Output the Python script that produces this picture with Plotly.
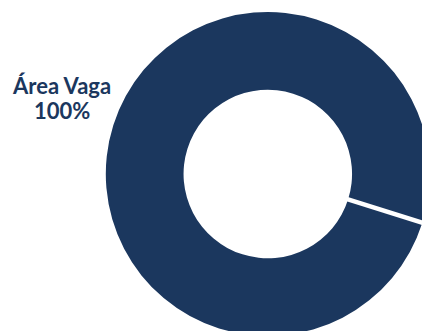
import math
import plotly.graph_objects as go

# Occupancy breakdown
labels = ["Área Vaga"]
values = [100]
colors = ["#1B375E"]

# Layout geometry (pixels)
W, H = 440, 340
cx, cy = 267.8, 174.0      # donut centre
R = 162.0                  # outer radius
hole = 0.52
rotation = 107.5           # start angle of the first slice, clockwise from 12 o'clock

dom_x = [(cx - R) / W, (cx + R) / W]
dom_y = [1 - (cy + R) / H, 1 - (cy - R) / H]

fig = go.Figure(
    go.Pie(
        labels=labels,
        values=values,
        hole=hole,
        rotation=rotation,
        sort=False,
        marker=dict(colors=colors, line=dict(color="white", width=0)),
        textinfo="none",
        hoverinfo="label+percent",
        domain=dict(x=dom_x, y=dom_y),
        showlegend=False,
    )
)

# Slice border at the start angle (a single full slice has no radial edge)
a = math.radians(rotation)
r0, r1 = R * hole - 1, R + 12
x0, y0 = cx + r0 * math.sin(a), cy - r0 * math.cos(a)
x1, y1 = cx + r1 * math.sin(a), cy - r1 * math.cos(a)
fig.add_shape(
    type="line",
    xref="paper", yref="paper",
    x0=x0 / W, y0=1 - y0 / H, x1=x1 / W, y1=1 - y1 / H,
    line=dict(color="white", width=4.5),
)

# Outside label: category name over its share
total = sum(values)
label_lines = [labels[0], "%d%%" % round(100 * values[0] / total)]
label_y = [85, 111]
for txt, ly in zip(label_lines, label_y):
    fig.add_annotation(
        xref="paper", yref="paper",
        x=62 / W, y=1 - ly / H,
        xanchor="center", yanchor="middle",
        text="<b>%s</b>" % txt,
        showarrow=False,
        font=dict(family="Lato", size=22, color=colors[0]),
        align="center",
    )

fig.update_layout(
    width=W, height=H,
    autosize=False,
    margin=dict(l=0, r=0, t=0, b=0),
    paper_bgcolor="white",
    plot_bgcolor="white",
)

fig.write_html(
    "out.html",
    post_script="document.documentElement.style.overflow='hidden';document.body.style.overflow='hidden';document.body.style.margin='0';",
)
